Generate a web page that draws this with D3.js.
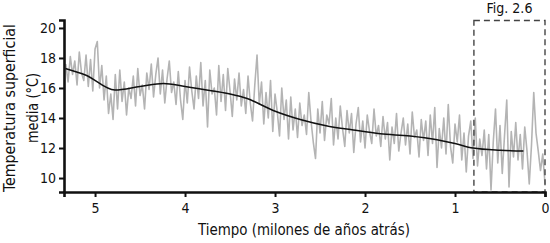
<!DOCTYPE html>
<html>
<head>
<meta charset="utf-8">
<script src="https://cdn.jsdelivr.net/npm/d3@7"></script>
<style>
  body { margin: 0; background: #fff; }
  svg text { font-family: "DejaVu Sans Condensed", "Roboto", sans-serif; fill: #111; }
</style>
</head>
<body>
<svg id="chart" width="550" height="243"></svg>
<script>
// noisy record, one value every 0.025 Ma, starting at 5.325 Ma
var startAge = 5.325
var stepAge = 0.025
var rawTemps = [
    17.6, 16.4, 18.1, 16.9, 17.8, 16.2, 18.4, 17.0, 16.5, 18.2,
    16.1, 17.9, 15.8, 18.6, 19.1, 16.0, 17.5, 15.2, 16.8, 14.3,
    15.6, 13.9, 16.9, 14.6, 17.2, 15.1, 16.4, 14.2, 16.0, 15.3,
    16.8, 14.8, 17.3, 15.5, 16.2, 14.6, 17.0, 15.9, 17.6, 15.4,
    16.9, 18.0, 15.6, 17.2, 15.0, 16.6, 17.8, 15.7, 16.4, 14.9,
    17.1, 15.2, 13.9, 16.5, 15.0, 17.4, 15.8, 14.6, 16.8, 15.3,
    17.7, 14.8, 16.5, 13.4, 17.2, 15.6, 16.0, 14.2, 17.5, 15.1,
    16.9, 14.5, 17.3, 15.8, 14.1, 16.6, 15.2, 17.0, 14.8, 15.9,
    14.3, 16.8, 15.0, 13.8, 16.2, 18.2, 14.9, 16.4, 13.6, 15.7,
    14.0, 16.5, 13.1, 15.6, 14.4, 12.8, 16.0, 13.9, 15.2, 12.6,
    15.4, 13.2, 14.6, 12.7, 15.0, 13.5, 14.2, 12.9, 15.7, 13.8,
    12.4, 11.3, 14.6, 13.0, 15.1, 12.5, 14.2, 13.6, 15.3, 12.2,
    14.0, 12.6, 14.8, 13.3, 12.1, 14.5, 13.0, 14.3, 11.7, 13.6,
    14.7, 12.4, 13.8, 12.0, 14.2, 13.1, 12.3, 14.6, 12.8, 13.5,
    12.1, 14.1, 12.6, 13.7, 11.2, 13.4, 12.3, 14.3, 11.8, 13.0,
    14.0, 12.2, 13.6, 11.6, 14.4, 12.7, 13.2, 11.4, 13.9, 12.5,
    13.8, 11.5, 14.2, 12.3, 14.7, 10.7, 13.3, 12.0, 14.0, 11.6,
    14.9, 12.1, 11.0, 13.6, 12.4, 14.2, 11.2, 13.0, 10.4, 12.8,
    13.8, 11.3, 14.0, 10.8, 12.6, 11.5, 13.2, 10.6, 12.9, 9.2,
    12.4, 14.6, 11.0, 13.5, 10.3, 12.8, 15.2, 9.4, 13.1, 11.4,
    13.7, 11.2, 12.9, 10.6, 13.4, 11.8, 9.6, 12.2, 15.7, 13.0,
    11.8, 10.5, 11.6, 9.6
]

// smoothed trend
var smoothAges = [5.33, 5.1, 4.78, 4.5, 4.24, 4.0, 3.69, 3.5, 3.31, 3.02, 2.72, 2.42, 2.13, 1.83, 1.5, 1.2, 1.0, 0.8, 0.5, 0.24]
var smoothTemps = [17.3, 16.85, 15.87, 16.1, 16.3, 16.1, 15.8, 15.6, 15.3, 14.5, 13.9, 13.47, 13.2, 12.95, 12.8, 12.55, 12.3, 12.0, 11.85, 11.8]

var xTicks = [5, 4, 3, 2, 1, 0]
var yTicks = [10, 12, 14, 16, 18, 20]

// highlighted window (see Fig. 2.6)
var boxAges = [0.79, 0]
var boxTop = 20.5
var boxLabel = "Fig. 2.6"

var svg = d3.select("#chart")

var x = d3.scaleLinear().domain([5.345, 0]).range([64, 545])
var y = d3.scaleLinear().domain([9.07, 20.53]).range([192, 20])

var raw = rawTemps.map(function(t, i) { return { age: startAge - stepAge * i, t: t } })
var smooth = smoothAges.map(function(a, i) { return { age: a, t: smoothTemps[i] } })

var line = d3.line()
    .x(function(d) { return x(d.age) })
    .y(function(d) { return y(d.t) })

svg.append("path")
    .datum(raw)
    .attr("d", line)
    .attr("fill", "none")
    .attr("stroke", "#b4b4b4")
    .attr("stroke-width", 1.6)
    .attr("stroke-linejoin", "round")

svg.append("path")
    .datum(smooth)
    .attr("d", line.curve(d3.curveMonotoneX))
    .attr("fill", "none")
    .attr("stroke", "#111")
    .attr("stroke-width", 1.5)

// dashed box
svg.append("rect")
    .attr("x", x(boxAges[0]))
    .attr("y", y(boxTop))
    .attr("width", x(boxAges[1]) - x(boxAges[0]))
    .attr("height", y.range()[0] - y(boxTop))
    .attr("fill", "none")
    .attr("stroke", "#444")
    .attr("stroke-width", 1.4)
    .attr("stroke-dasharray", "6,4")

svg.append("text")
    .attr("x", (x(boxAges[0]) + x(boxAges[1])) / 2)
    .attr("y", 13)
    .attr("text-anchor", "middle")
    .attr("font-size", 14)
    .attr("textLength", 46)
    .attr("lengthAdjust", "spacingAndGlyphs")
    .text(boxLabel)

// axes
var xAxis = svg.append("g")
    .attr("transform", "translate(0,192)")
    .call(d3.axisBottom(x).tickValues(xTicks).tickFormat(d3.format("d")).tickSizeOuter(0).tickSize(5))
var yAxis = svg.append("g")
    .attr("transform", "translate(64,0)")
    .call(d3.axisLeft(y).tickValues(yTicks).tickFormat(d3.format("d")).tickSizeOuter(0).tickSize(5))

;[xAxis, yAxis].forEach(function(g) {
    g.select(".domain").attr("stroke", "#111").attr("stroke-width", 2.6)
    g.selectAll(".tick line").attr("stroke", "#111").attr("stroke-width", 2)
    g.selectAll(".tick text").attr("font-size", 14).attr("fill", "#111")
        .attr("font-family", "DejaVu Sans Condensed, Roboto, sans-serif")
})
xAxis.selectAll(".tick text").attr("dy", "0.9em")

svg.append("text")
    .attr("x", 304)
    .attr("y", 235)
    .attr("text-anchor", "middle")
    .attr("font-size", 16)
    .attr("textLength", 212)
    .attr("lengthAdjust", "spacingAndGlyphs")
    .text("Tiempo (milones de años atrás)")

var yTitle = svg.append("g")
    .attr("transform", "translate(0,108) rotate(-90)")
yTitle.append("text")
    .attr("x", 0).attr("y", 15)
    .attr("text-anchor", "middle")
    .attr("font-size", 16)
    .attr("textLength", 168)
    .attr("lengthAdjust", "spacingAndGlyphs")
    .text("Temperatura superficial")
yTitle.append("text")
    .attr("x", 0).attr("y", 38)
    .attr("text-anchor", "middle")
    .attr("font-size", 16)
    .attr("textLength", 70)
    .attr("lengthAdjust", "spacingAndGlyphs")
    .text("media (°C)")
</script>
</body>
</html>
